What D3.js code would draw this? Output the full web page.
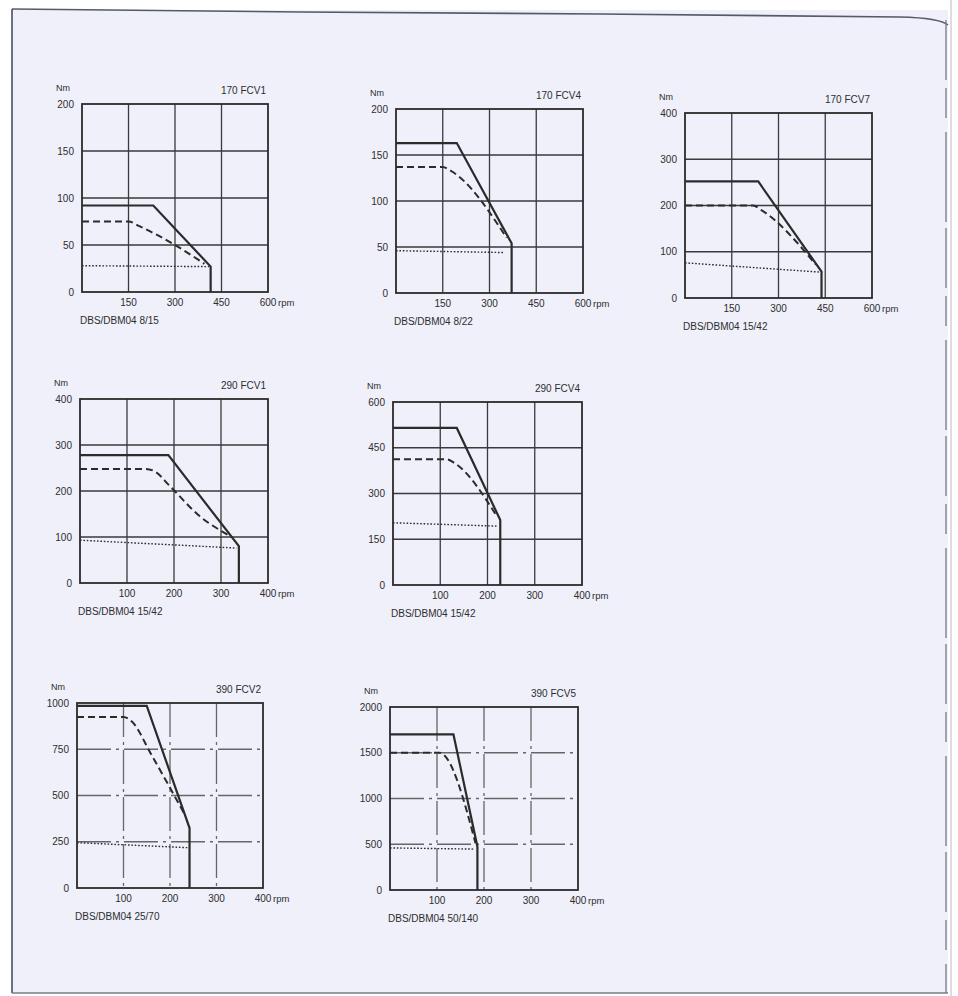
<!DOCTYPE html>
<html>
<head>
<meta charset="utf-8">
<script src="https://cdn.jsdelivr.net/npm/d3@7"></script>
<style>
  html, body { margin: 0; padding: 0; background: #f7f7fb; }
  svg { display: block; }
  text { font-family: "Liberation Sans", Arial, sans-serif; fill: #2e2e2e; }
</style>
</head>
<body>
<div id="chart"></div>
<script>
// ---- data ----
const titles = ['170 FCV1', '170 FCV4', '170 FCV7', '290 FCV1', '290 FCV4', '390 FCV2', '390 FCV5'];
const subtitles = ['DBS/DBM04 8/15', 'DBS/DBM04 8/22', 'DBS/DBM04 15/42', 'DBS/DBM04 15/42',
  'DBS/DBM04 15/42', 'DBS/DBM04 25/70', 'DBS/DBM04 50/140'];
const yTicks = [
  [0, 50, 100, 150, 200],
  [0, 50, 100, 150, 200],
  [0, 100, 200, 300, 400],
  [0, 100, 200, 300, 400],
  [0, 150, 300, 450, 600],
  [0, 250, 500, 750, 1000],
  [0, 500, 1000, 1500, 2000]
];
const xTicks = [
  [150, 300, 450, 600],
  [150, 300, 450, 600],
  [150, 300, 450, 600],
  [100, 200, 300, 400],
  [100, 200, 300, 400],
  [100, 200, 300, 400],
  [100, 200, 300, 400]
];
// solid = max torque, dashed = rated, dotted = continuous (Nm vs rpm)
const solidCurves = [
  [[0, 92], [230, 92], [415, 27], [415, 0]],
  [[0, 163], [195, 163], [371, 54], [371, 0]],
  [[0, 252], [235, 252], [438, 57], [438, 0]],
  [[0, 278], [188, 278], [338, 80], [338, 0]],
  [[0, 515], [135, 515], [227, 213], [227, 0]],
  [[0, 985], [150, 985], [242, 324], [242, 0]],
  [[0, 1700], [135, 1700], [186, 473], [186, 0]]
];
const dashedCurves = [
  [[0, 75], [150, 75], [185, 70], [300, 50], [395, 30]],
  [[0, 137], [150, 137], [175, 133], [355, 60]],
  [[0, 200], [218, 200], [245, 190], [420, 72]],
  [[0, 248], [140, 248], [160, 242], [190, 212], [255, 145], [318, 103]],
  [[0, 412], [115, 412], [130, 400], [220, 225]],
  [[0, 925], [100, 925], [118, 900], [160, 720], [230, 405]],
  [[0, 1500], [105, 1500], [182, 510]]
];
const dottedCurves = [
  [[0, 28], [410, 27]],
  [[0, 46], [345, 44]],
  [[0, 76], [433, 56]],
  [[0, 93], [333, 76]],
  [[0, 204], [220, 193]],
  [[0, 245], [238, 218]],
  [[0, 460], [180, 447]]
];

// ---- layout: plot boxes on the page ----
const boxes = [
  { x0: 82, x1: 268, y0: 104, y1: 292 },
  { x0: 396, x1: 583, y0: 109, y1: 293 },
  { x0: 685, x1: 872, y0: 113, y1: 298 },
  { x0: 80, x1: 268, y0: 399, y1: 583 },
  { x0: 393, x1: 582, y0: 402, y1: 585 },
  { x0: 77, x1: 263, y0: 703, y1: 888 },
  { x0: 390, x1: 578, y0: 707, y1: 890 }
];
const brokenGrid = [false, false, false, false, false, true, true];

const W = 958, H = 996;
const ink = '#2b2b2b';

const svg = d3.select('#chart').append('svg')
  .attr('width', W)
  .attr('height', H);

// page background + scanned page edges
svg.append('rect').attr('width', W).attr('height', H).attr('fill', '#ffffff');
svg.append('rect')
  .attr('x', 12).attr('y', 10).attr('width', 936).attr('height', 983)
  .attr('fill', '#eff0fa');
svg.append('path')
  .attr('d', 'M12,9 L300,12 L600,14 L900,17 Q940,18 948,25')
  .attr('fill', 'none').attr('stroke', '#555a66').attr('stroke-width', 1.6);
svg.append('line')
  .attr('x1', 12).attr('y1', 9).attr('x2', 12).attr('y2', 993)
  .attr('stroke', '#4a5060').attr('stroke-width', 1.6);
svg.append('line')
  .attr('x1', 12).attr('y1', 993).attr('x2', 948).attr('y2', 993)
  .attr('stroke', '#777c88').attr('stroke-width', 1.4);
svg.append('line')
  .attr('x1', 946).attr('y1', 20).attr('x2', 946).attr('y2', 993)
  .attr('stroke', '#7d8290').attr('stroke-width', 1.4)
  .attr('stroke-dasharray', '60,8,30,14,90,6');
svg.append('line')
  .attr('x1', 951).attr('y1', 0).attr('x2', 951).attr('y2', 996)
  .attr('stroke', '#b8bac2').attr('stroke-width', 1);

boxes.forEach((b, i) => {
  const yMax = yTicks[i][yTicks[i].length - 1];
  const xMax = xTicks[i][xTicks[i].length - 1];
  const x = d3.scaleLinear().domain([0, xMax]).range([b.x0, b.x1]);
  const y = d3.scaleLinear().domain([0, yMax]).range([b.y1, b.y0]);

  const g = svg.append('g').attr('class', 'panel');

  // grid (the bottom row is faded/broken on the scan)
  const gridDash = brokenGrid[i] ? '34,5,3,5' : null;
  const gridColor = brokenGrid[i] ? '#666' : '#3a3a3a';
  g.append('g')
    .selectAll('line')
    .data(yTicks[i].slice(1, -1))
    .join('line')
    .attr('x1', b.x0).attr('x2', b.x1)
    .attr('y1', d => y(d)).attr('y2', d => y(d))
    .attr('stroke', gridColor)
    .attr('stroke-width', 1.3)
    .attr('stroke-dasharray', gridDash);
  g.append('g')
    .selectAll('line')
    .data(xTicks[i].slice(0, -1))
    .join('line')
    .attr('x1', d => x(d)).attr('x2', d => x(d))
    .attr('y1', b.y0).attr('y2', b.y1)
    .attr('stroke', gridColor)
    .attr('stroke-width', 1.3)
    .attr('stroke-dasharray', gridDash);

  // frame
  g.append('rect')
    .attr('x', b.x0).attr('y', b.y0)
    .attr('width', b.x1 - b.x0).attr('height', b.y1 - b.y0)
    .attr('fill', 'none').attr('stroke', ink).attr('stroke-width', 1.8);

  // curves
  const line = d3.line().x(d => x(d[0])).y(d => y(d[1]));
  const smooth = d3.line().x(d => x(d[0])).y(d => y(d[1])).curve(d3.curveMonotoneX);

  g.append('path').attr('d', smooth(dottedCurves[i]))
    .attr('fill', 'none').attr('stroke', ink).attr('stroke-width', 1.4)
    .attr('stroke-dasharray', '1.6,1.8');
  g.append('path').attr('d', smooth(dashedCurves[i]))
    .attr('fill', 'none').attr('stroke', ink).attr('stroke-width', 2)
    .attr('stroke-dasharray', '7,4');
  g.append('path').attr('d', line(solidCurves[i]))
    .attr('fill', 'none').attr('stroke', ink).attr('stroke-width', 2.2)
    .attr('stroke-linejoin', 'miter');

  // y tick labels
  g.append('g')
    .selectAll('text')
    .data(yTicks[i])
    .join('text')
    .attr('x', b.x0 - 8)
    .attr('y', d => y(d) + 3.5)
    .attr('text-anchor', 'end')
    .attr('font-size', 10)
    .text(d => d);

  // x tick labels
  g.append('g')
    .selectAll('text')
    .data(xTicks[i])
    .join('text')
    .attr('x', d => x(d))
    .attr('y', b.y1 + 14)
    .attr('text-anchor', 'middle')
    .attr('font-size', 10)
    .text(d => d);
  g.append('text')
    .attr('x', x(xMax) + 10)
    .attr('y', b.y1 + 14)
    .attr('font-size', 9.5)
    .text('rpm');

  // unit, title, subtitle
  g.append('text')
    .attr('x', b.x0 - 26).attr('y', b.y0 - 13)
    .attr('font-size', 9)
    .text('Nm');
  g.append('text')
    .attr('x', b.x1 - 2).attr('y', b.y0 - 10)
    .attr('text-anchor', 'end')
    .attr('font-size', 10)
    .text(titles[i]);
  g.append('text')
    .attr('x', b.x0 - 2).attr('y', b.y1 + 32)
    .attr('font-size', 10)
    .text(subtitles[i]);
});
</script>
</body>
</html>
